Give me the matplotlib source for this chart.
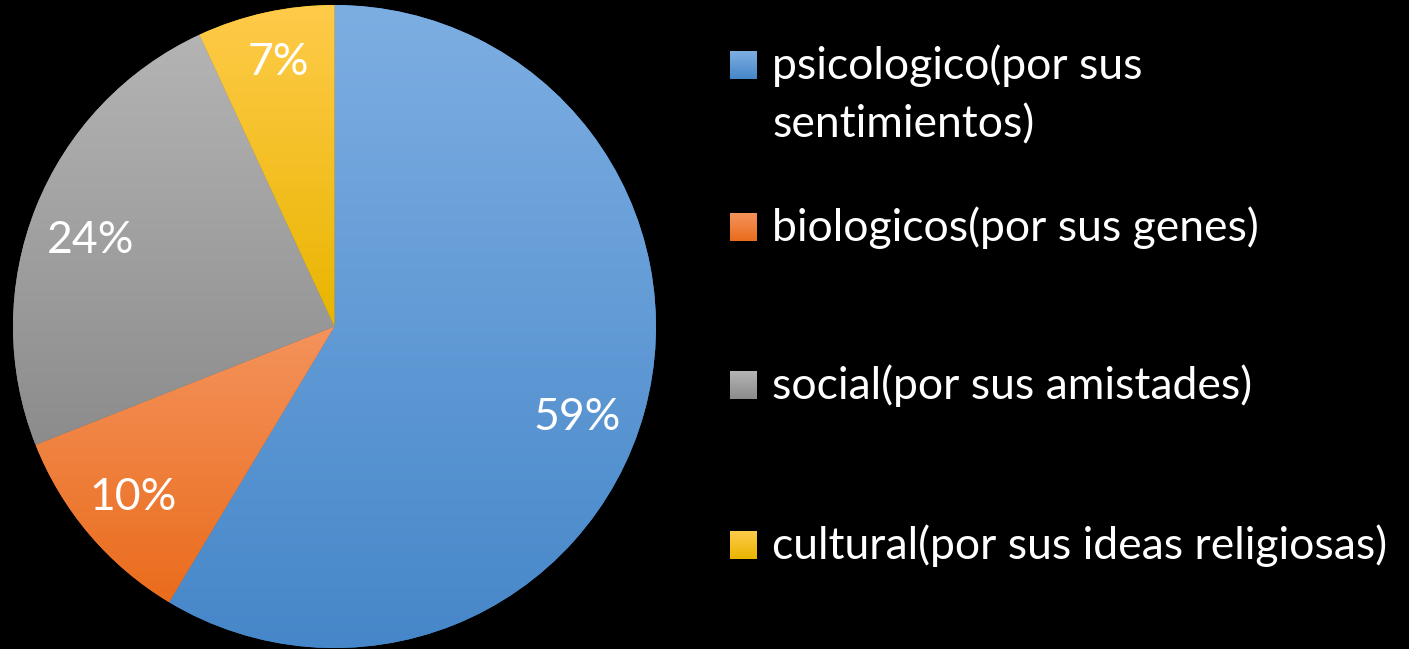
import numpy as np
import matplotlib
matplotlib.use("Agg")
import matplotlib.pyplot as plt
from matplotlib.colors import LinearSegmentedColormap

labels = ["psicologico(por sus\nsentimientos)", "biologicos(por sus genes)",
          "social(por sus amistades)", "cultural(por sus ideas religiosas)"]
values = [58.6, 10.4, 24.1, 6.9]
pct_labels = ["59%", "10%", "24%", "7%"]
# top (light) / bottom (dark) colours of each slice gradient
colors_top = ["#7DAEE2", "#F4935C", "#B4B4B4", "#FFCB4A"]
colors_bot = ["#4687C9", "#EA6C1C", "#8C8C8C", "#E9B500"]

W, H = 1409, 649
fig = plt.figure(figsize=(W / 100, H / 100), dpi=100, facecolor="black")
plt.rcParams["font.family"] = ["Lato", "DejaVu Sans"]

ax = fig.add_axes([13 / W, 1 / H, 643 / W, 643 / H])
ax.set_facecolor("black")
wedges, _ = ax.pie(values, startangle=90, counterclock=False, radius=1,
                   colors=colors_bot, wedgeprops=dict(linewidth=0))

# vertical gradient inside every wedge
for w, ct, cb in zip(wedges, colors_top, colors_bot):
    cmap = LinearSegmentedColormap.from_list("g", [cb, ct])
    grad = np.linspace(0, 1, 256).reshape(-1, 1)
    theta = np.radians(np.linspace(w.theta1, w.theta2, 100))
    xs = np.concatenate([[0], np.cos(theta)])
    ys = np.concatenate([[0], np.sin(theta)])
    im = ax.imshow(grad, cmap=cmap, origin="lower", aspect="auto",
                   extent=[xs.min(), xs.max(), ys.min(), ys.max()], zorder=2)
    im.set_clip_path(w)

# percentage labels (distance from centre, angle shift in degrees)
label_place = [(0.805, -5.0), (0.82, 0.0), (0.806, 2.3), (0.84, -0.5)]
for w, t, (d, shift) in zip(wedges, pct_labels, label_place):
    ang = np.radians((w.theta1 + w.theta2) / 2 + shift)
    ax.text(d * np.cos(ang), d * np.sin(ang), t, color="white", fontsize=32,
            ha="center", va="center", zorder=3)
ax.set_xlim(-1, 1)
ax.set_ylim(-1, 1)
ax.set_aspect("equal")
ax.axis("off")

# legend drawn by hand (pixel layout, y grows downward)
baselines = [79, 241, 399, 559]
lax = fig.add_axes([0, 0, 1, 1])
lax.axis("off")
lax.patch.set_alpha(0)
for lab, y, ct, cb in zip(labels, baselines, colors_top, colors_bot):
    cmap = LinearSegmentedColormap.from_list("g", [ct, cb])
    lax.imshow(np.linspace(0, 1, 50).reshape(-1, 1), cmap=cmap, aspect="auto",
               extent=[730, 757, y, y - 28])
    first, *rest = lab.split("\n")
    lax.text(772, y, first, color="white", fontsize=32, va="baseline", ha="left")
    for i, line in enumerate(rest):
        lax.text(772, y + 58 * (i + 1), line, color="white", fontsize=32,
                 va="baseline", ha="left")
lax.set_xlim(0, W)
lax.set_ylim(H, 0)

fig.savefig("out.png", dpi=100, facecolor="black")
